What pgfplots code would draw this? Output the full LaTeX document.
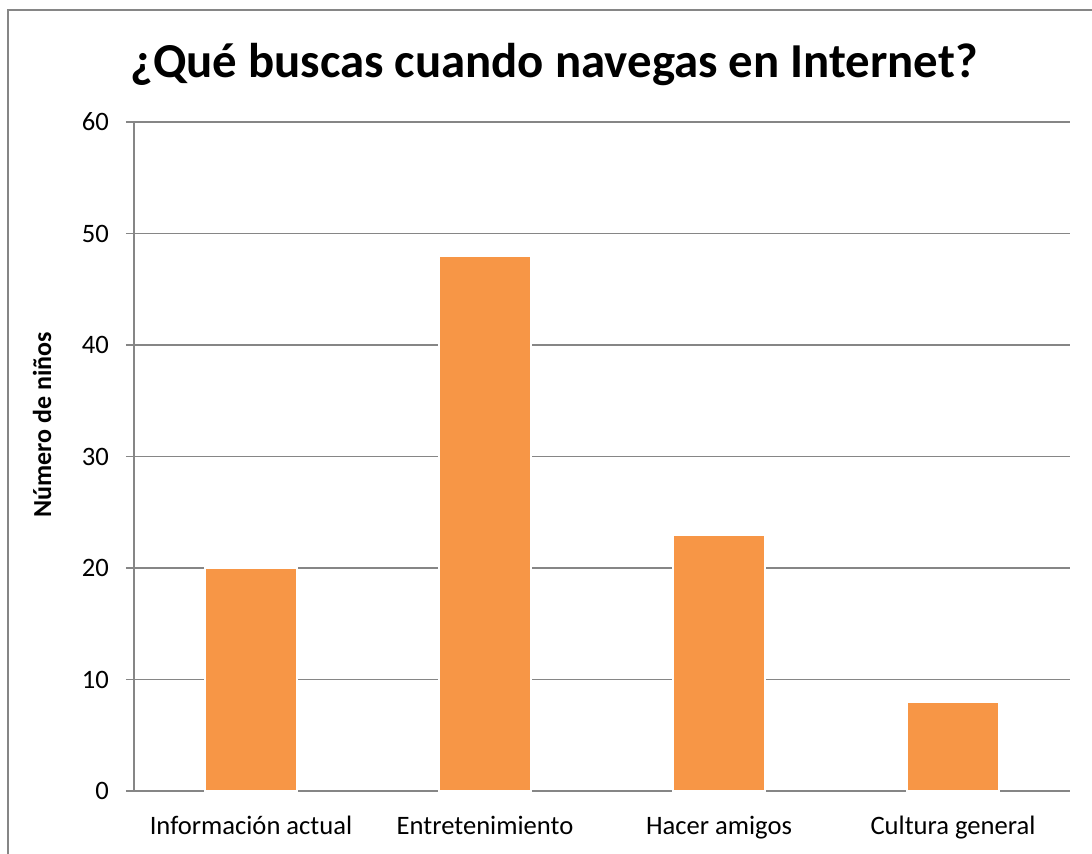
\documentclass[border=0pt]{standalone}
\usepackage{pgfplots}
\pgfplotsset{compat=1.18}
\usepackage{fontspec}
\setmainfont{Carlito}
\definecolor{barorange}{HTML}{F79646}
\definecolor{gridgrey}{HTML}{868686}

\begin{document}
\begin{tikzpicture}
% 1 px of the reference = 0.5pt; axis corner at px (134,791)
\useasboundingbox (-67pt,-31.5pt) rectangle (479pt,395.5pt);
\begin{axis}[
    at={(0pt,0pt)}, anchor=south west,
    scale only axis,
    width=468pt, height=334.5pt,
    ymin=0, ymax=60,
    xmin=-0.5, xmax=3.5,
    ytick={0,10,...,60},
    xtick={0,1,2,3},
    xticklabels={Información actual, Entretenimiento, Hacer amigos, Cultura general},
    major x tick style={draw=none},
    extra x ticks={-0.5,0.5,1.5,2.5,3.5},
    extra x tick labels={},
    extra x tick style={major tick length=4pt, tick style={draw=gridgrey, line width=0.8pt}, grid=none},
    ymajorgrids,
    grid style={draw=gridgrey, line width=0.8pt},
    axis lines=left,
    axis line style={draw=gridgrey, line width=0.8pt, -},
    tick align=outside,
    major tick length=4pt,
    ytick style={draw=gridgrey, line width=0.8pt},
    tick label style={font=\fontsize{13.3}{15}\selectfont},
    /pgf/number format/assume math mode=true,
    yticklabel style={xshift=-5pt},
    xticklabel style={yshift=-5pt},
    ybar, bar width=46pt,
    clip=false,
]
\addplot[fill=barorange, draw=white, line width=1pt] coordinates {
    (0,20) (1,48) (2,23) (3,8)
};
\end{axis}
\begin{scope}
\clip (-67pt,-31.5pt) rectangle (479pt,395.5pt);
\draw[gridgrey, line width=1pt] (-63pt,-60pt) rectangle (500pt,390.5pt);
\end{scope}
\node[anchor=base, font=\bfseries\fontsize{24.4}{28}\selectfont] at (210pt,356.5pt) {¿Qué buscas cuando navegas en Internet?};
\node[font=\bfseries\fontsize{13}{15}\selectfont, rotate=90] at (-46pt,183pt) {Número de niños};
\end{tikzpicture}
\end{document}
